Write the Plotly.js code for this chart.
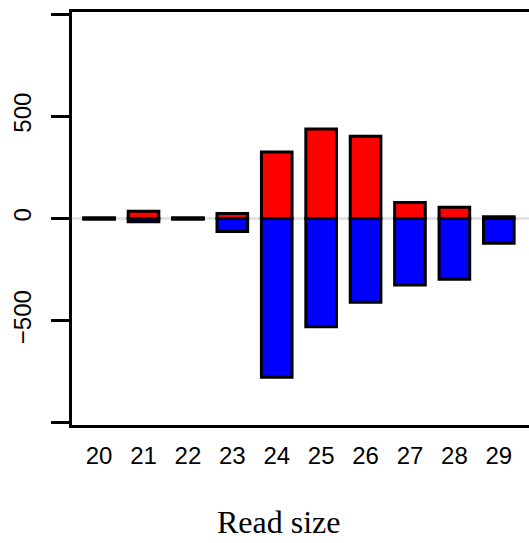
<!DOCTYPE html>
<html><head><meta charset="utf-8">
<script src="https://cdn.plot.ly/plotly-3.0.1.min.js"></script>
<style>html,body{margin:0;padding:0;background:#fff;overflow:hidden}</style>
</head><body><div id="chart" style="width:529px;height:543px"></div>
<script>
var readSizes = ['20','21','22','23','24','25','26','27','28','29'];
var senseCounts = [4, 35, 4, 25, 325, 438, 402, 78, 55, 8];
var antisenseCounts = [-4, -16, -4, -64, -777, -529, -410, -325, -297, -121];
var yTickVals = [-1000, -500, 0, 500, 1000];
var yTickText = ['', '\u2212500', '0', '500', ''];
var xTitle = 'Read size';

var outline = {color: '#000', width: 3};
var traces = [
  {type: 'bar', x: readSizes, y: senseCounts, marker: {color: '#ff0000', line: outline}, name: 'sense'},
  {type: 'bar', x: readSizes, y: antisenseCounts, marker: {color: '#0000ff', line: outline}, name: 'antisense'}
];
var layout = {
  width: 529, height: 543,
  margin: {l: 72, r: 0, t: 12, b: 118},
  barmode: 'relative', bargap: 0.31,
  showlegend: false,
  paper_bgcolor: '#fff', plot_bgcolor: '#fff',
  font: {family: 'Liberation Sans, Arial, sans-serif', color: '#000'},
  xaxis: {
    type: 'category', range: [-0.61, 9.68],
    showline: true, linecolor: '#000', linewidth: 3, mirror: true,
    ticks: '', showgrid: false, zeroline: false,
    tickfont: {size: 24, family: 'Liberation Sans, Arial, sans-serif'},
    ticklabelstandoff: 7
  },
  yaxis: {
    range: [-1010, 1010],
    tickvals: yTickVals, ticktext: yTickText,
    tickangle: -90,
    ticks: 'outside', ticklen: 18, tickwidth: 3, tickcolor: '#000',
    ticklabelstandoff: 10,
    showline: true, linecolor: '#000', linewidth: 3,
    showgrid: false,
    zeroline: true, zerolinecolor: '#e3e3e3', zerolinewidth: 3,
    tickfont: {size: 24, family: 'Liberation Sans, Arial, sans-serif'}
  },
  annotations: [{
    text: xTitle, xref: 'paper', yref: 'paper', x: 0.453, y: -0.235,
    xanchor: 'center', yanchor: 'middle', showarrow: false,
    font: {family: 'Liberation Serif, Times New Roman, serif', size: 32, color: '#000'}
  }]
};
Plotly.newPlot('chart', traces, layout, {displayModeBar: false, staticPlot: true});
</script></body></html>
